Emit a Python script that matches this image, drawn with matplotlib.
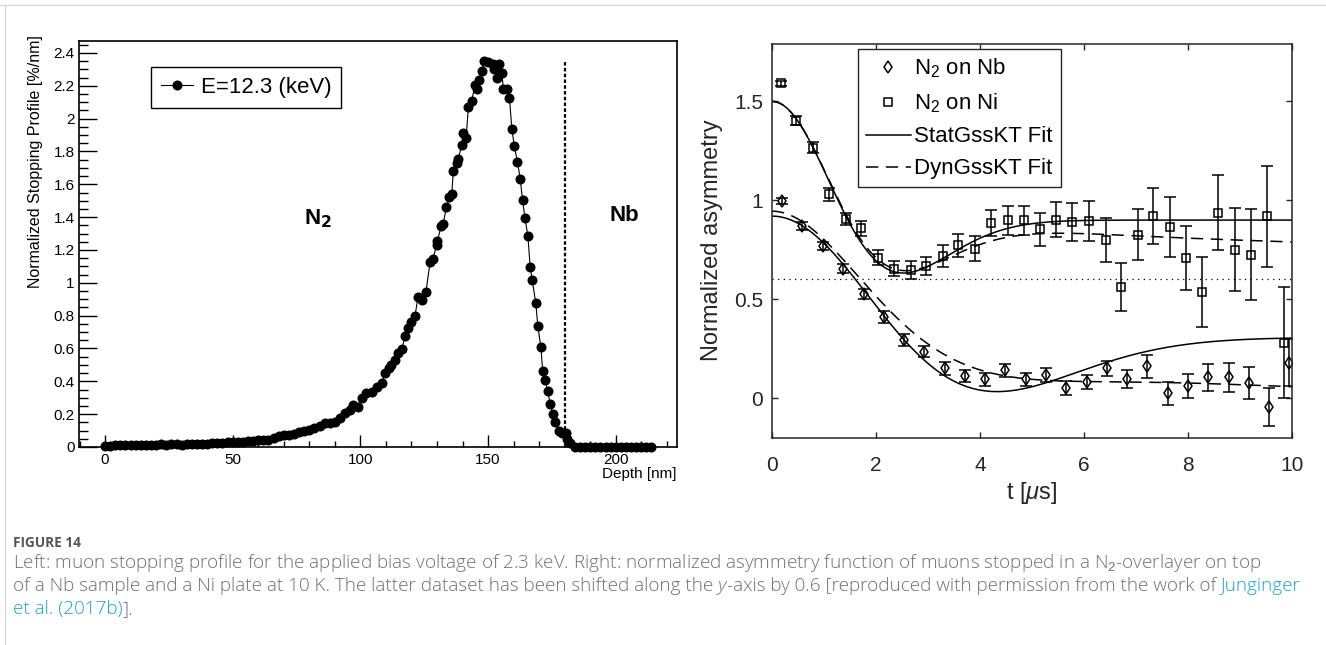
"""
Figura 14: perfil de frenado de muones (izquierda) y asimetria
normalizada con ajustes Kubo-Toyabe (derecha), con pie de figura.
"""

import numpy as np
import matplotlib
matplotlib.use("Agg")
import matplotlib.pyplot as plt
from matplotlib.lines import Line2D
from matplotlib.ticker import MultipleLocator, FuncFormatter

plt.rcParams["font.family"] = ["Liberation Sans", "DejaVu Sans"]
plt.rcParams["mathtext.fontset"] = "custom"
plt.rcParams["mathtext.rm"] = "Liberation Sans"
plt.rcParams["mathtext.it"] = "Liberation Sans:italic"

# ---------------- datos: perfil de frenado (izquierda) ----------------
profundidad = [0, 2, 4, 6, 8, 10, 12, 14, 16, 18, 20, 22, 24, 26, 28, 30, 32, 34, 36, 38,
               40, 42, 44, 46, 48, 50, 52, 54, 56, 58, 60, 62, 64, 66, 68, 70, 72, 74, 76, 78,
               80, 82, 84, 86, 88, 90, 92, 94, 96, 97.3, 99.2, 100.5, 102.2, 104.5, 106.4,
               108.4, 109.7, 111.4, 111.9, 113.6, 114.9, 116.2, 117.5, 118.8, 119.9, 121.4,
               122.5, 124.0, 125.7, 127.3, 128.4, 129.9, 130.2, 131.6, 132.5, 133.6, 134.9,
               135.8, 136.4, 137.8, 138.4, 139.7, 140.3, 141.4, 142.3, 143.6, 144.9, 145.6,
               146.6, 147.5, 148.6, 150.1, 152.1, 152.4, 153.4, 154.4, 155.4, 156.0, 157.3,
               158.4, 159.3, 160.3, 161.5, 162.6, 163.5, 164.5, 165.6, 166.5, 167.3, 168.7,
               169.5, 170.7, 171.4, 172.3, 173.4, 174.3, 175.4, 176.3, 177.6, 178.9, 180.6,
               181.1, 182.1, 184.1, 186, 188, 190, 192, 194, 196, 198, 200, 202, 204, 206,
               208, 210, 212, 214]
perfil = [0.005, 0.008, 0.010, 0.010, 0.012, 0.012, 0.013, 0.012, 0.014, 0.015, 0.014, 0.016,
          0.015, 0.018, 0.016, 0.015, 0.018, 0.017, 0.019, 0.020, 0.021, 0.024, 0.025, 0.026,
          0.028, 0.030, 0.031, 0.033, 0.034, 0.036, 0.045, 0.040, 0.045, 0.052, 0.070, 0.072,
          0.075, 0.080, 0.090, 0.100, 0.105, 0.115, 0.130, 0.145, 0.148, 0.154, 0.175, 0.205,
          0.225, 0.256, 0.245, 0.296, 0.327, 0.337, 0.367, 0.391, 0.449, 0.479, 0.499, 0.529,
          0.574, 0.595, 0.676, 0.726, 0.763, 0.797, 0.911, 0.895, 0.945, 1.128, 1.148, 1.230,
          1.256, 1.345, 1.361, 1.459, 1.523, 1.544, 1.680, 1.727, 1.757, 1.840, 1.910, 1.885,
          2.070, 2.110, 2.205, 2.180, 2.235, 2.290, 2.350, 2.345, 2.335, 2.300, 2.245, 2.335,
          2.280, 2.180, 2.180, 2.125, 1.940, 1.832, 1.737, 1.635, 1.503, 1.392, 1.284, 1.097,
          1.016, 0.875, 0.736, 0.607, 0.463, 0.408, 0.343, 0.262, 0.200, 0.154, 0.099, 0.083,
          0.087, 0.047, 0.022, 0.002, 0.0, 0.0, 0.0, 0.0, 0.0, 0.0, 0.0, 0.0, 0.0, 0.0, 0.0,
          0.0, 0.0, 0.0, 0.0]
INTERFAZ_NM = 180
ALTURA_INTERFAZ = 2.35

# ---------------- datos: asimetria (derecha) ----------------
t_nb = [0.19, 0.58, 0.98, 1.37, 1.76, 2.15, 2.54, 2.93, 3.32, 3.71, 4.10, 4.49, 4.88,
        5.27, 5.66, 6.05, 6.44, 6.83, 7.22, 7.61, 8.00, 8.39, 8.78, 9.17, 9.56, 9.95]
asim_nb = [0.995, 0.87, 0.77, 0.655, 0.525, 0.41, 0.295, 0.235, 0.15, 0.11, 0.095, 0.14,
           0.095, 0.117, 0.05, 0.08, 0.15, 0.095, 0.16, 0.024, 0.06, 0.105, 0.105, 0.077,
           -0.045, 0.18]
error_nb = [0.015, 0.018, 0.02, 0.022, 0.025, 0.028, 0.03, 0.028, 0.031, 0.03, 0.032, 0.035,
            0.034, 0.034, 0.035, 0.036, 0.038, 0.046, 0.06, 0.058, 0.06, 0.067, 0.075,
            0.082, 0.095, 0.12]

t_ni = [0.17, 0.47, 0.78, 1.10, 1.42, 1.72, 2.03, 2.35, 2.67, 2.96, 3.28, 3.58, 3.90, 4.22,
        4.53, 4.85, 5.15, 5.47, 5.77, 6.09, 6.42, 6.71, 7.03, 7.33, 7.65, 7.96, 8.27, 8.58,
        8.90, 9.21, 9.52, 9.85]
asim_ni = [1.592, 1.403, 1.266, 1.03, 0.907, 0.858, 0.709, 0.655, 0.646, 0.667, 0.717, 0.772,
           0.756, 0.883, 0.898, 0.898, 0.853, 0.902, 0.89, 0.895, 0.80, 0.562, 0.827, 0.92,
           0.865, 0.709, 0.536, 0.937, 0.75, 0.724, 0.919, 0.28]
error_ni = [0.013, 0.022, 0.028, 0.034, 0.03, 0.036, 0.038, 0.04, 0.046, 0.046, 0.055, 0.057,
            0.063, 0.066, 0.072, 0.072, 0.085, 0.09, 0.096, 0.10, 0.11, 0.12, 0.13, 0.14,
            0.15, 0.16, 0.177, 0.19, 0.21, 0.23, 0.255, 0.28]

DESPLAZAMIENTO_NI = 0.6
# parametros de los ajustes (amplitud, sigma [1/us], nu [1/us])
AJUSTE_NB_STAT = (0.92, 0.40)
AJUSTE_NB_DIN = (0.945, 0.425, 0.32)
AJUSTE_NI_STAT = (0.90, 0.685)
AJUSTE_NI_DIN = (0.90, 0.69, 0.07)

COLOR_PIE = "#707070"
COLOR_ENLACE = "#1aa6c7"


def kt_estatico(t, sigma):
    x2 = (sigma * t) ** 2
    return 1 / 3 + 2 / 3 * (1 - x2) * np.exp(-x2 / 2)


def kt_dinamico(t, sigma, nu):
    # modelo de colision fuerte, resuelto por trapecios
    dt = t[1] - t[0]
    g = kt_estatico(t, sigma) * np.exp(-nu * t)
    G = np.zeros_like(t)
    G[0] = 1.0
    for i in range(1, len(t)):
        suma = np.dot(G[i - 1:0:-1], g[1:i]) + 0.5 * G[0] * g[i]
        G[i] = (g[i] + nu * dt * suma) / (1 - 0.5 * nu * dt * g[0])
    return G


def texto_en_linea(fig, x, y, partes, **kw):
    renderer = fig.canvas.get_renderer()
    for cadena, color, estilo in partes:
        t = fig.text(x, y, cadena, color=color, style=estilo, **kw)
        x = x + t.get_window_extent(renderer).width / fig.bbox.width


W, H = 1326, 645
figura = plt.figure(figsize=(W / 100, H / 100), dpi=100)


def fx(px):
    return px / W


def fy(py):
    return 1 - py / H


# ---------------- panel izquierdo ----------------
ax1 = figura.add_axes([fx(79), fy(447), fx(677) - fx(79), fy(41) - fy(447)])
ax1.plot(profundidad, perfil, "-o", color="black", linewidth=0.8, markersize=6.2,
         clip_on=False, zorder=3)
ax1.plot([INTERFAZ_NM, INTERFAZ_NM], [0, ALTURA_INTERFAZ], color="black",
         linewidth=1.6, linestyle=(0, (1.6, 1.0)))
ax1.set_xlim(-10.2, 224)
ax1.set_ylim(0, 2.473)
ax1.xaxis.set_major_locator(MultipleLocator(50))
ax1.xaxis.set_minor_locator(MultipleLocator(10))
ax1.yaxis.set_major_locator(MultipleLocator(0.2))
ax1.yaxis.set_minor_locator(MultipleLocator(0.05))
formato = FuncFormatter(lambda v, p: f"{v:g}")
ax1.xaxis.set_major_formatter(formato)
ax1.yaxis.set_major_formatter(formato)
ax1.tick_params(axis="x", which="major", direction="in", length=8.6, width=1, pad=4, labelsize=11)
ax1.tick_params(axis="x", which="minor", direction="in", length=4.3, width=1)
ax1.tick_params(axis="y", which="major", direction="in", length=13, width=1, pad=3, labelsize=11)
ax1.tick_params(axis="y", which="minor", direction="in", length=6.5, width=1)
for lado in ax1.spines.values():
    lado.set_linewidth(1.2)
ax1.text(83.4, 1.39, "N$_\\mathbf{2}$", fontsize=16, fontweight="bold", ha="center", va="center")
ax1.text(203.3, 1.41, "Nb", fontsize=16, fontweight="bold", ha="center", va="center")
ax1.legend([Line2D([], [], color="black", linewidth=0.8, marker="o", markersize=6.2)],
           ["E=12.3 (keV)"], loc="upper left", bbox_to_anchor=(0.12, 0.936),
           borderaxespad=0, fancybox=False, edgecolor="black", framealpha=1,
           fontsize=16, handlelength=1.45, handletextpad=0.35, borderpad=0.45)
ax1.get_legend().get_frame().set_linewidth(1.0)
figura.text(fx(36), fy(35), "Normalized Stopping Profile [%/nm]", rotation=90,
            ha="center", va="top", fontsize=11.5)
figura.text(fx(677), fy(474), "Depth [nm]", ha="right", va="center", fontsize=11)

# ---------------- panel derecho ----------------
ax2 = figura.add_axes([fx(772), fy(437.7), fx(1292) - fx(772), fy(44) - fy(437.7)])
t_fino = np.linspace(0, 10, 1001)

a, s = AJUSTE_NB_STAT
ax2.plot(t_fino, a * kt_estatico(t_fino, s), color="black", linewidth=1.1)
a, s, n = AJUSTE_NB_DIN
ax2.plot(t_fino, a * kt_dinamico(t_fino, s, n), color="black", linewidth=1.1,
         linestyle=(0, (8, 5)))
a, s = AJUSTE_NI_STAT
ax2.plot(t_fino, DESPLAZAMIENTO_NI + a * kt_estatico(t_fino, s), color="black", linewidth=1.1)
a, s, n = AJUSTE_NI_DIN
ax2.plot(t_fino, DESPLAZAMIENTO_NI + a * kt_dinamico(t_fino, s, n), color="black",
         linewidth=1.1, linestyle=(0, (8, 5)))
ax2.axhline(DESPLAZAMIENTO_NI, color="black", linewidth=0.9, linestyle=(0, (1, 3.5)))

ax2.errorbar(t_nb, asim_nb, yerr=error_nb, fmt="none", ecolor="black", elinewidth=1.1,
             capsize=4.5, capthick=1.1)
ax2.errorbar(t_ni, asim_ni, yerr=error_ni, fmt="none", ecolor="black", elinewidth=1.1,
             capsize=4.5, capthick=1.1)
ax2.plot(t_nb, asim_nb, "d", mfc="none", mec="black", mew=1.1, markersize=6.3)
ax2.plot(t_ni, asim_ni, "s", mfc="none", mec="black", mew=1.1, markersize=5.2)

ax2.set_xlim(0, 10)
ax2.set_ylim(-0.2, 1.79)
ax2.set_xticks([0, 2, 4, 6, 8, 10])
ax2.set_yticks([0, 0.5, 1, 1.5])
ax2.xaxis.set_major_formatter(formato)
ax2.yaxis.set_major_formatter(formato)
ax2.tick_params(axis="x", direction="in", length=4.3, width=1, top=True, pad=13,
                labelsize=15, colors="#262626")
ax2.tick_params(axis="y", direction="in", length=4.3, width=1, right=True, pad=6.5,
                labelsize=15, colors="#262626")
for lado in ax2.spines.values():
    lado.set_linewidth(1.1)
    lado.set_color("#262626")

manejadores = [
    Line2D([], [], linestyle="none", marker="d", mfc="none", mec="black", mew=1.1, markersize=6.3),
    Line2D([], [], linestyle="none", marker="s", mfc="none", mec="black", mew=1.1, markersize=5.2),
    Line2D([], [], color="black", linewidth=1.1),
    Line2D([], [], color="black", linewidth=1.1, linestyle=(0, (8, 5))),
]
etiquetas = ["N$_2$ on Nb", "N$_2$ on Ni", "StatGssKT Fit", "DynGssKT Fit"]
ax2.legend(manejadores, etiquetas, loc="upper left", bbox_to_anchor=(0.165, 0.987),
           borderaxespad=0, fancybox=False, edgecolor="#262626", framealpha=1,
           fontsize=16, handlelength=2.05, handletextpad=0.15, borderpad=0.35,
           labelspacing=0.5)
ax2.get_legend().get_frame().set_linewidth(1.0)
figura.text(fx(712), fy(240), "Normalized asymmetry", rotation=90, ha="center",
            va="center", fontsize=17, color="#262626")
figura.text(fx(1032), fy(493), "t [$\\mu$s]", ha="center", va="center", fontsize=17,
            color="#262626")

# ---------------- marco y pie de figura ----------------
figura.add_artist(Line2D([0, 1], [fy(4.5), fy(4.5)], transform=figura.transFigure,
                         color="#d8d8d8", linewidth=1))
figura.add_artist(Line2D([fx(4.5), fx(4.5)], [0, fy(4.5)], transform=figura.transFigure,
                         color="#d8d8d8", linewidth=1))

fuente_pie = ["Open Sans", "DejaVu Sans"]
figura.text(fx(13), fy(543), "FIGURE 14", fontsize=9.8, fontweight="bold", color="#555555",
            family=fuente_pie, va="center")
texto_en_linea(figura, fx(13), fy(563), [
    ("Left: muon stopping profile for the applied bias voltage of 2.3 keV. Right: normalized "
     "asymmetry function of muons stopped in a N$_2$-overlayer on top", COLOR_PIE, "normal")],
    fontsize=13.6, family=fuente_pie, va="center", fontweight="light")
texto_en_linea(figura, fx(13), fy(586), [
    ("of a Nb sample and a Ni plate at 10 K. The latter dataset has been shifted along the ",
     COLOR_PIE, "normal"),
    ("y", COLOR_PIE, "italic"),
    ("-axis by 0.6 [reproduced with permission from the work of ", COLOR_PIE, "normal"),
    ("Junginger", COLOR_ENLACE, "normal")],
    fontsize=13.6, family=fuente_pie, va="center", fontweight="light")
texto_en_linea(figura, fx(13), fy(609), [
    ("et al. (2017b)", COLOR_ENLACE, "normal"),
    ("].", COLOR_PIE, "normal")],
    fontsize=13.6, family=fuente_pie, va="center", fontweight="light")

figura.savefig("out.png", dpi=100)
plt.close(figura)
